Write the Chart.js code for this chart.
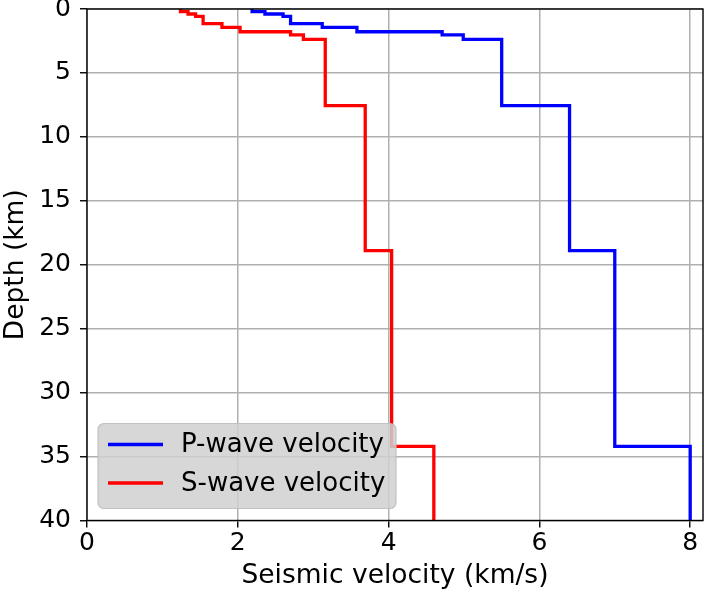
<!DOCTYPE html>
<html>
<head>
<meta charset="utf-8">
<script src="https://cdn.jsdelivr.net/npm/chart.js@4/dist/chart.umd.min.js"></script>
<style>
  html, body { margin: 0; padding: 0; background: #fff; }
  #wrap { width: 705px; height: 592px; position: relative; }
</style>
</head>
<body>
<div id="wrap"><canvas id="c" width="705" height="592"></canvas></div>
<script>
// ---- data ----
const layerTopDepth = [0, 0.21, 0.39, 0.57, 1.14, 1.43, 1.78, 2.02, 2.37, 7.55, 18.9, 34.2]; // km
const pVelocity     = [2.19, 2.36, 2.60, 2.70, 3.12, 3.58, 4.71, 4.99, 5.50, 6.40, 7.00, 8.00]; // km/s
const sVelocity     = [1.24, 1.34, 1.44, 1.54, 1.79, 2.03, 2.70, 2.87, 3.16, 3.69, 4.04, 4.60]; // km/s
const maxDepth = 40;
const xTicks = [0, 2, 4, 6, 8];
const yTicks = [0, 5, 10, 15, 20, 25, 30, 35, 40];
const seriesLabels = ['P-wave velocity', 'S-wave velocity'];
const xTitle = 'Seismic velocity (km/s)';
const yTitle = 'Depth (km)';

function profile(vel) {
  const pts = vel.map((v, i) => ({ x: v, y: layerTopDepth[i] }));
  pts.push({ x: vel[vel.length - 1], y: maxDepth });
  return pts;
}

const FONT = 'DejaVu Sans';

const frameAndLegend = {
  id: 'frameAndLegend',
  afterDatasetsDraw(chart) {
    const { ctx, chartArea: a } = chart;
    ctx.save();
    // spines
    ctx.strokeStyle = '#000';
    ctx.lineWidth = 1.4;
    ctx.strokeRect(a.left, a.top, a.right - a.left, a.bottom - a.top);
    // legend box
    const bx = a.left + 11, bw = 298, bh = 85, by = a.bottom - 12 - bh, r = 6;
    ctx.beginPath();
    ctx.moveTo(bx + r, by);
    ctx.arcTo(bx + bw, by, bx + bw, by + bh, r);
    ctx.arcTo(bx + bw, by + bh, bx, by + bh, r);
    ctx.arcTo(bx, by + bh, bx, by, r);
    ctx.arcTo(bx, by, bx + bw, by, r);
    ctx.closePath();
    ctx.fillStyle = 'rgba(208,208,208,0.85)';
    ctx.fill();
    ctx.strokeStyle = 'rgba(190,190,190,0.9)';
    ctx.lineWidth = 1.2;
    ctx.stroke();
    // entries
    ctx.font = '26px "' + FONT + '"';
    ctx.textBaseline = 'middle';
    ctx.textAlign = 'left';
    chart.data.datasets.forEach((ds, i) => {
      const yy = by + 21 + i * 38.5;
      ctx.strokeStyle = ds.borderColor;
      ctx.lineWidth = 3.3;
      ctx.beginPath();
      ctx.moveTo(bx + 10, yy);
      ctx.lineTo(bx + 65, yy);
      ctx.stroke();
      ctx.fillStyle = '#000';
      ctx.fillText(ds.label, bx + 83, yy + 1);
    });
    ctx.restore();
  }
};

function noPad(s) { s.paddingTop = 0; s.paddingBottom = 0; s.paddingLeft = 0; s.paddingRight = 0; }

new Chart(document.getElementById('c'), {
  type: 'scatter',
  data: {
    datasets: [
      { label: seriesLabels[0], data: profile(pVelocity), borderColor: '#0000ff', backgroundColor: '#0000ff',
        showLine: true, stepped: 'after', borderWidth: 3.3, pointRadius: 0, fill: false, clip: 0 },
      { label: seriesLabels[1], data: profile(sVelocity), borderColor: '#ff0000', backgroundColor: '#ff0000',
        showLine: true, stepped: 'after', borderWidth: 3.3, pointRadius: 0, fill: false, clip: 0 }
    ]
  },
  options: {
    responsive: false,
    animation: false,
    events: [],
    layout: { padding: { top: 9, right: 2, left: 0, bottom: 0 } },
    plugins: { legend: { display: false }, tooltip: { enabled: false } },
    scales: {
      x: {
        type: 'linear', min: 0, max: 8.17,
        afterBuildTicks: s => { s.ticks = xTicks.map(v => ({ value: v })); },
        afterFit: s => { s.height = 71.5; noPad(s); },
        grid: { color: '#b0b0b0', lineWidth: 1.5, tickColor: '#000', tickLength: 7, tickWidth: 1.4 },
        border: { display: false },
        ticks: { color: '#000', font: { family: FONT, size: 25 }, padding: 1, maxRotation: 0 },
        title: { display: true, text: xTitle, color: '#000', font: { family: FONT, size: 26.5 }, padding: { top: 0, bottom: 0 } }
      },
      y: {
        type: 'linear', min: 0, max: maxDepth, reverse: true,
        afterBuildTicks: s => { s.ticks = yTicks.map(v => ({ value: v })); },
        afterFit: s => { s.width = 87; noPad(s); },
        grid: { color: '#b0b0b0', lineWidth: 1.5, tickColor: '#000', tickLength: 7, tickWidth: 1.4 },
        border: { display: false },
        ticks: { color: '#000', font: { family: FONT, size: 25 }, padding: 9 },
        title: { display: true, text: yTitle, color: '#000', font: { family: FONT, size: 26.5 }, padding: { top: 0, bottom: 0 } }
      }
    }
  },
  plugins: [frameAndLegend]
});
</script>
</body>
</html>
